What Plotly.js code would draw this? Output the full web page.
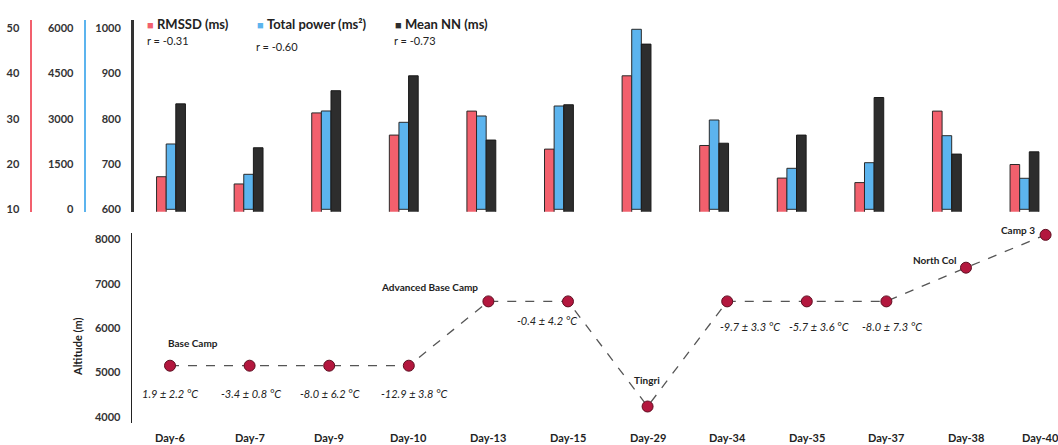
<!DOCTYPE html>
<html>
<head>
<meta charset="utf-8">
<script src="https://cdn.plot.ly/plotly-3.0.1.min.js"></script>
<style>html,body{margin:0;padding:0;background:#fff;}#chart{width:1058px;height:445px;}</style>
</head>
<body>
<div id="chart"></div>
<script>
// ---- data ----
const days = ['Day-6','Day-7','Day-9','Day-10','Day-13','Day-15','Day-29','Day-34','Day-35','Day-37','Day-38','Day-40'];
const rmssd = [17.2,15.6,31.3,26.4,31.7,23.3,39.5,24.1,16.9,15.9,31.7,19.9];
const totalPower = [2165,1160,3259,2884,3093,3424,5967,2960,1359,1545,2440,1028];
const meanNN = [833,736,862,895,753,831,965,746,764,847,722,727];
const altitude = [5150,5150,5150,5150,6600,6600,4230,6600,6600,6600,7360,8100];
const locDays = ['Day-6','Day-13','Day-29','Day-38','Day-40'];
const locNames = ['Base Camp','Advanced Base Camp','Tingri','North Col','Camp 3'];
const tempDays = ['Day-6','Day-7','Day-9','Day-10','Day-15','Day-34','Day-35','Day-37'];
const tempLabels = ['1.9 ± 2.2 °C','-3.4 ± 0.8 °C','-8.0 ± 6.2 °C','-12.9 ± 3.8 °C','-0.4 ± 4.2 °C','-9.7 ± 3.3 °C','-5.7 ± 3.6 °C','-8.0 ± 7.3 °C'];
const seriesNames = ['RMSSD (ms)','Total power (ms²)','Mean NN (ms)'];
const corrLabels = ['r = -0.31','r = -0.60','r = -0.73'];
const rmssdTicks = [10,20,30,40,50];
const tpTicks = [0,1500,3000,4500,6000];
const nnTicks = [600,700,800,900,1000];
const altTicks = [4000,5000,6000,7000,8000];

// ---- styling / layout helpers ----
const W = 1058, H = 445;
const px = v => v / W;
const py = v => 1 - v / H;
const RED = '#f2606d', BLUE = '#5cb4ee', BLACK = '#2d2d2d';
const FONT = 'Lato, "Open Sans", sans-serif';
const bw = 0.124;

const barCommon = {type:'bar', x: days, width: bw, xaxis:'x', showlegend:false, hoverinfo:'y'};
const traces = [
  Object.assign({}, barCommon, {name: seriesNames[0], y: rmssd, yaxis:'y', offset: -1.5*bw, marker:{color:RED, line:{color:'#2a2a2a', width:1}}}),
  Object.assign({}, barCommon, {name: seriesNames[1], y: totalPower, yaxis:'y2', offset: -0.5*bw, marker:{color:BLUE, line:{color:'#2a2a2a', width:1}}}),
  Object.assign({}, barCommon, {name: seriesNames[2], y: meanNN, yaxis:'y3', offset: 0.5*bw, marker:{color:BLACK, line:{color:'#1a1a1a', width:1}}}),
  {type:'scatter', mode:'lines+markers', x: days, y: altitude, xaxis:'x2', yaxis:'y4', cliponaxis:false, showlegend:false,
   line:{color:'#555', width:1.3, dash:'dash'},
   marker:{size:11, color:'#b3173e', line:{color:'#5e0d20', width:1}}}
];

const tickFont = {family: FONT, size: 11, color:'#333', weight: 700};
const topDomain = [py(211.7), py(20)];
const botDomain = [py(423), py(233)];

const layout = {
  width: W, height: H,
  margin:{l:0, r:0, t:0, b:0},
  paper_bgcolor:'#fff', plot_bgcolor:'rgba(0,0,0,0)',
  showlegend:false,
  font:{family: FONT, color:'#222'},
  xaxis:{domain:[px(132), 1], range:[-0.5026, 11.432], type:'category', showticklabels:false, showgrid:false, zeroline:false, showline:false, anchor:'y3', fixedrange:true},
  yaxis:{domain: topDomain, range:[9.47, 51.83], tickvals: rmssdTicks, anchor:'free', position: px(30.5), side:'left',
         showline:true, linecolor:RED, linewidth:2.5, showgrid:false, zeroline:false, ticks:'', ticklabelstandoff:8, tickfont: tickFont},
  yaxis2:{domain: topDomain, range:[-79.6, 6275], tickvals: tpTicks, overlaying:'y', anchor:'free', position: px(84.7), side:'left',
         showline:true, linecolor:BLUE, linewidth:2.5, showgrid:false, zeroline:false, ticks:'', ticklabelstandoff:8, tickfont: tickFont},
  yaxis3:{domain: topDomain, range:[594.7, 1018.3], tickvals: nnTicks, overlaying:'y', anchor:'free', position: px(132), side:'left',
         showline:true, linecolor:'#333', linewidth:2.5, showgrid:false, zeroline:false, ticks:'', ticklabelstandoff:8, tickfont: tickFont},
  xaxis2:{domain:[px(132), 1], range:[-0.4774, 11.156], type:'category', anchor:'y4', showgrid:false, zeroline:false, showline:false,
          showticklabels:false, ticks:''},
  yaxis4:{domain: botDomain, range:[3858, 8142], tickvals: altTicks, anchor:'x2', showline:true, linecolor:'#222', linewidth:1.3,
          showgrid:false, zeroline:false, ticks:'', ticklabelstandoff:8, tickfont: tickFont},
  annotations: []
};

// category labels under the altitude panel (last one nudged inside the page)
days.forEach((d, i) => {
  layout.annotations.push({xref:'x2', yref:'paper', x: d, y: py(437), xanchor:'center', yanchor:'middle', showarrow:false,
    xshift: i === days.length - 1 ? -5 : 0,
    text: d, font:{family: FONT, size: 11, color:'#222', weight: 700}});
});

// legend-like labels
const legX = [145, 255, 393.3];
const legColors = [RED, BLUE, BLACK];
const corrX = [145, 254, 391.7];
const corrY = [40.7, 46, 41];
seriesNames.forEach((n, i) => {
  layout.annotations.push({xref:'paper', yref:'paper', x: px(legX[i]), y: py(24), xanchor:'left', yanchor:'middle', showarrow:false,
    text: '<span style="color:' + legColors[i] + ';font-size:11px">■</span> <b>' + n + '</b>',
    font:{family: FONT, size: 13, color:'#222'}});
  layout.annotations.push({xref:'paper', yref:'paper', x: px(corrX[i]), y: py(corrY[i]), xanchor:'left', yanchor:'middle', showarrow:false,
    text: corrLabels[i], font:{family: FONT, size: 11, color:'#222'}});
});

// location labels
const locStyle = [
  {xanchor:'left', xshift:-4, yshift:23},
  {xanchor:'right', xshift:-8, yshift:14},
  {xanchor:'center', xshift:-1, yshift:27},
  {xanchor:'right', xshift:-7, yshift:8},
  {xanchor:'right', xshift:-9, yshift:5}
];
locNames.forEach((n, i) => {
  const idx = days.indexOf(locDays[i]);
  layout.annotations.push(Object.assign({xref:'x2', yref:'y4', x: locDays[i], y: altitude[idx], yanchor:'middle', showarrow:false,
    text: '<b>' + n + '</b>', font:{family: FONT, size: 10, color:'#222'}}, locStyle[i]));
});

// temperature labels
const tempStyle = [
  {xshift:0, yshift:-28}, {xshift:1, yshift:-28}, {xshift:1, yshift:-28}, {xshift:6, yshift:-28},
  {xshift:-21, yshift:-19}, {xshift:23, yshift:-25}, {xshift:12, yshift:-25}, {xshift:6, yshift:-25}
];
tempLabels.forEach((t, i) => {
  const idx = days.indexOf(tempDays[i]);
  layout.annotations.push(Object.assign({xref:'x2', yref:'y4', x: tempDays[i], y: altitude[idx], xanchor:'center', yanchor:'middle', showarrow:false,
    text: '<i>' + t + '</i>', font:{family: FONT, size: 11, color:'#222'}}, tempStyle[i]));
});

// axis title
layout.annotations.push({xref:'paper', yref:'paper', x: px(77), y: py(347), textangle:-90, showarrow:false, xanchor:'center', yanchor:'middle',
  text:'<b>Altitude (m)</b>', font:{family: FONT, size: 11, color:'#222'}});

Plotly.newPlot('chart', traces, layout, {displayModeBar:false, staticPlot:true});
</script>
</body>
</html>
